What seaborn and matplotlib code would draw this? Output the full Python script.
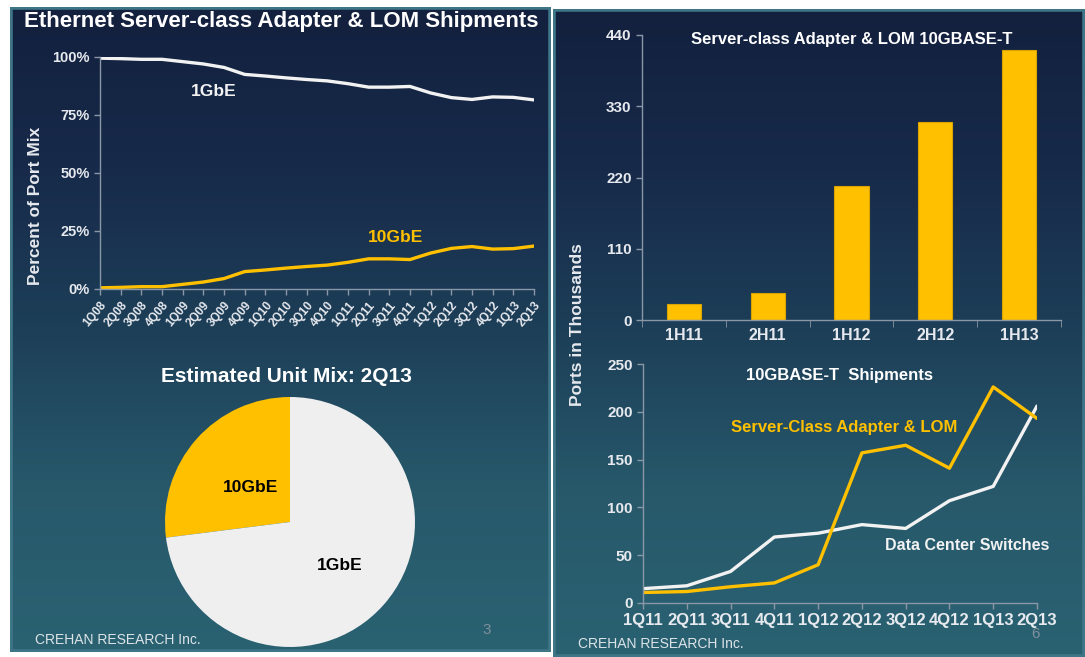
import numpy as np
import matplotlib
matplotlib.use("Agg")
import matplotlib.pyplot as plt
from matplotlib.colors import LinearSegmentedColormap
from matplotlib.patches import Rectangle
import seaborn as sns

# --- data ---
quarters = ['1Q08', '2Q08', '3Q08', '4Q08', '1Q09', '2Q09', '3Q09', '4Q09',
            '1Q10', '2Q10', '3Q10', '4Q10', '1Q11', '2Q11', '3Q11', '4Q11',
            '1Q12', '2Q12', '3Q12', '4Q12', '1Q13', '2Q13']
gbe1_pct = [99.5, 99.3, 99.0, 99.0, 98.0, 97.0, 95.5, 92.5, 91.8, 91.0, 90.3,
            89.7, 88.5, 87.0, 87.0, 87.3, 84.5, 82.5, 81.7, 82.8, 82.6, 81.5]
gbe10_pct = [0.5, 0.7, 1.0, 1.0, 2.0, 3.0, 4.5, 7.5, 8.2, 9.0, 9.7,
             10.3, 11.5, 13.0, 13.0, 12.7, 15.5, 17.5, 18.3, 17.2, 17.4, 18.5]

mix_labels = ['10GbE', '1GbE']
mix_share = [27, 73]

halves = ['1H11', '2H11', '1H12', '2H12', '1H13']
adapter_10gbaset = [24, 41, 207, 306, 417]

ship_quarters = ['1Q11', '2Q11', '3Q11', '4Q11', '1Q12', '2Q12', '3Q12',
                 '4Q12', '1Q13', '2Q13']
adapter_lom = [11, 12, 17, 21, 40, 157, 165, 141, 226, 193]
dc_switches = [15, 18, 33, 69, 73, 82, 78, 107, 122, 206]

YELLOW = '#FFC000'
WHITE = '#F2F2F2'
AXIS = '#8a97a6'
TXT = '#e6e9ee'

sns.set_style("ticks")
plt.rcParams['font.family'] = ['Liberation Sans', 'DejaVu Sans']
plt.rcParams['font.weight'] = 'bold'
plt.rcParams['axes.labelweight'] = 'bold'
plt.rcParams['axes.titleweight'] = 'bold'

W, H = 1085, 657
fig = plt.figure(figsize=(W / 100, H / 100), dpi=100, facecolor='white')


def px_axes(l, t, r, b, z=1):
    return fig.add_axes([l / W, 1 - b / H, (r - l) / W, (b - t) / H], zorder=z)


# slide backgrounds
bg_cmap = LinearSegmentedColormap.from_list(
    'slide', ['#13203e', '#172a4a', '#1d3f58', '#27596b', '#2a6272'])
grad = np.linspace(0, 1, 256).reshape(-1, 1)
for (l, t, r, b) in [(10, 7, 551, 652), (553, 9, 1085, 657)]:
    bg = px_axes(l, t, r, b, z=0)
    bg.imshow(grad, aspect='auto', cmap=bg_cmap, extent=(0, 1, 0, 1))
    bg.add_patch(Rectangle((0, 0), 1, 1, transform=bg.transAxes, fill=False,
                           edgecolor='#3f7687', lw=4))
    bg.set_axis_off()


def style_axes(ax):
    ax.set_facecolor('none')
    for s in ['top', 'right']:
        ax.spines[s].set_visible(False)
    for s in ['left', 'bottom']:
        ax.spines[s].set_color(AXIS)
        ax.spines[s].set_linewidth(1.0)
    ax.tick_params(colors=AXIS, labelcolor=TXT, length=4, width=1)


# --- top left: port mix lines ---
ax1 = px_axes(100, 57, 534, 289, z=2)
xq = np.arange(len(quarters))
sns.lineplot(x=xq, y=gbe1_pct, ax=ax1, color=WHITE, lw=2.4)
sns.lineplot(x=xq, y=gbe10_pct, ax=ax1, color=YELLOW, lw=2.4)
style_axes(ax1)
ax1.set_xlim(0, len(quarters) - 1)
ax1.set_ylim(0, 100)
ax1.set_yticks([0, 25, 50, 75, 100])
ax1.set_yticklabels([f'{v}%' for v in [0, 25, 50, 75, 100]], fontsize=10.5)
ax1.set_xticks(xq)
ax1.set_xticklabels(quarters, rotation=50, ha='right', rotation_mode='anchor',
                    fontsize=8.5)
ax1.set_ylabel('Percent of Port Mix', color=TXT, fontsize=12.5)
ax1.yaxis.set_label_coords(-0.131, 0.36)
ax1.text(5.5, 85, '1GbE', color=WHITE, fontsize=12.5, ha='center', va='center')
ax1.text(14.3, 22, '10GbE', color=YELLOW, fontsize=12.5, ha='center',
         va='center')
fig.text(281 / W, 1 - 21 / H, 'Ethernet Server-class Adapter & LOM Shipments',
         color='white', fontsize=16, ha='center', va='center')

# --- bottom left: pie ---
ax2 = px_axes(165, 397, 415, 647, z=2)
wedges, _ = ax2.pie(mix_share, colors=[YELLOW, '#EFEFEF'], startangle=90,
                    counterclock=True, radius=1,
                    wedgeprops=dict(linewidth=0))
for w, lab, d in zip(wedges, mix_labels, [0.42, 0.53]):
    ang = np.deg2rad((w.theta1 + w.theta2) / 2)
    ax2.text(d * np.cos(ang), d * np.sin(ang), lab, color='black',
             fontsize=12.5, ha='center', va='center')
ax2.set_xlim(-1, 1)
ax2.set_ylim(-1, 1)
fig.text(286 / W, 1 - 376 / H, 'Estimated Unit Mix: 2Q13', color='white',
         fontsize=15, ha='center', va='center')

# --- top right: bars ---
ax3 = px_axes(642, 35, 1061, 320, z=2)
sns.barplot(x=halves, y=adapter_10gbaset, ax=ax3, color=YELLOW, width=0.41,
            saturation=1, edgecolor='#d9a300', linewidth=0.8)
style_axes(ax3)
ax3.set_xlim(-0.5, len(halves) - 0.5)
ax3.set_ylim(0, 440)
ax3.set_yticks([0, 110, 220, 330, 440])
ax3.tick_params(axis='y', labelsize=11)
ax3.tick_params(axis='x', which='major', length=0, labelsize=11.5, pad=6)
ax3.set_xticks(np.arange(len(halves) + 1) - 0.5, minor=True)
ax3.tick_params(axis='x', which='minor', length=5, color=AXIS)
ax3.set_title('Server-class Adapter & LOM 10GBASE-T', color='white',
              fontsize=12, y=0.94)

# --- bottom right: shipment lines ---
ax4 = px_axes(643, 364, 1037, 603, z=2)
xs = np.arange(len(ship_quarters))
sns.lineplot(x=xs, y=dc_switches, ax=ax4, color=WHITE, lw=2.4)
sns.lineplot(x=xs, y=adapter_lom, ax=ax4, color=YELLOW, lw=2.4)
style_axes(ax4)
ax4.set_xlim(0, len(ship_quarters) - 1)
ax4.set_ylim(0, 250)
ax4.set_yticks([0, 50, 100, 150, 200, 250])
ax4.set_xticks(xs)
ax4.set_xticklabels(ship_quarters, fontsize=12)
ax4.tick_params(axis='y', labelsize=11)
ax4.set_title('10GBASE-T  Shipments', color='white', fontsize=12, y=0.9)
ax4.text(4.6, 184, 'Server-Class Adapter & LOM', color=YELLOW, fontsize=12,
         ha='center', va='center')
ax4.text(7.4, 60, 'Data Center Switches', color=WHITE, fontsize=11.5,
         ha='center', va='center')

fig.text(577 / W, 1 - 325 / H, 'Ports in Thousands', color=TXT, fontsize=12.5,
         rotation=90, ha='center', va='center')

# footers
for x, y, num, nx in [(35, 640, '3', 487), (578, 644, '6', 1035)]:
    fig.text(x / W, 1 - y / H, 'CREHAN RESEARCH Inc.', color='#dde4e8',
             fontsize=10, fontweight='normal', ha='left', va='center')
    fig.text(nx / W, 1 - (y - 10) / H, num, color='#7f909a', fontsize=11,
             fontweight='normal', ha='center', va='center')

fig.savefig('out.png', dpi=100, facecolor='white')
